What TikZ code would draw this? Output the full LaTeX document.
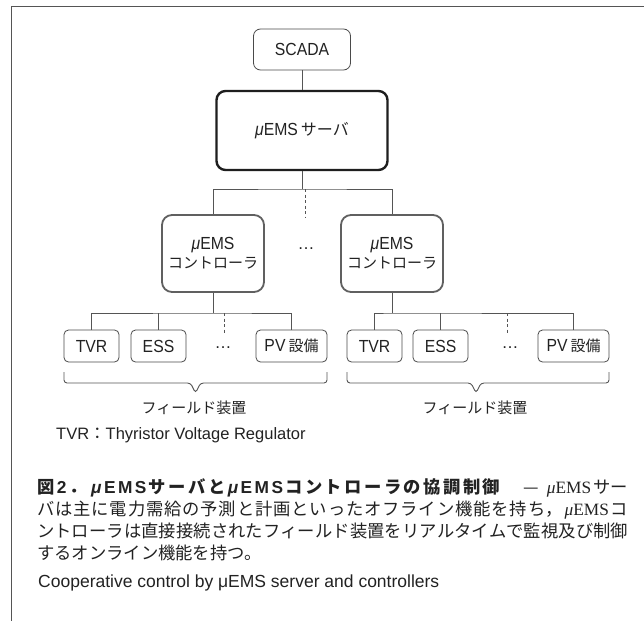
\documentclass[tikz,border=0pt]{standalone}
\usepackage{fontspec}
\setmainfont{Liberation Sans}
\newfontfamily\jp{Noto Sans CJK JP}
\newfontfamily\lnarrow{Liberation Sans}[FakeStretch=0.9]
\newfontfamily\lserif{Liberation Serif}
\definecolor{lc}{HTML}{555555}
\definecolor{bc}{HTML}{4A4A4A}
\definecolor{cc}{HTML}{606060}
\definecolor{sc}{HTML}{1E1E1E}
\definecolor{tc}{HTML}{222222}
\newcommand\emsN{{\lnarrow\itshape μ\upshape EMS}}
\newcommand\emsR{{\lserif\itshape μ\upshape EMS}}
\newcommand\bj[1]{{\jp\bfseries #1}\hfil}
\newcommand\bl[1]{{\bfseries #1}\hfil}
\newcommand\emsBs{{\bfseries\itshape μ}\hfil\bl{E}\bl{M}\bl{S}}
\newcommand\capline[1]{\parbox[b]{591pt}{\XeTeXlinebreaklocale "ja"\XeTeXlinebreakskip=0pt plus 20pt minus 0.4pt\tolerance=10000\parfillskip=0pt #1}}
\begin{document}
\begin{tikzpicture}[x=1pt,y=-1pt,
  frameline/.style={draw=lc, line width=1pt},
  conn/.style={draw=lc, line width=0.9pt},
  dashline/.style={draw=lc, line width=0.9pt, dash pattern=on 3pt off 2.5pt},
  thinbox/.style={draw=bc, line width=0.8pt, rounded corners=7pt, inner sep=0pt, text=tc,
    font=\lnarrow\fontsize{17.5}{20}\selectfont},
  srvbox/.style={draw=sc, line width=2.4pt, rounded corners=9pt, inner sep=0pt, text=tc,
    minimum width=171pt, minimum height=79pt, font=\fontsize{17.5}{20}\selectfont},
  ctrlbox/.style={draw=cc, line width=1.8pt, rounded corners=10pt, inner sep=0pt, text=tc,
    minimum width=102pt, minimum height=77pt, align=center, font=\fontsize{17.5}{19}\selectfont},
  devbox/.style={thinbox, rounded corners=4.5pt, minimum width=55pt, minimum height=32pt},
  pvbox/.style={devbox, minimum width=71pt},
  brace/.style={draw=lc, line width=0.9pt, rounded corners=3pt},
  lbl/.style={inner sep=0pt, text=tc},
  dots/.style={inner sep=0pt, text=tc, font=\fontsize{17}{20}\selectfont},
  jpfont/.style={font=\jp\fontsize{15}{18}\selectfont}
]
\useasboundingbox (0,0) rectangle (644,621);
\fill[white] (0,0) rectangle (644,621);
% frame
\coordinate (fa) at (644,6);
\coordinate (fb) at (11.5,6);
\coordinate (fc) at (11.5,621);
\draw[frameline] (fa) -- (fb) -- (fc);

% top
\node[thinbox, minimum width=97pt, minimum height=41pt] (scada) at (302,49.5) {SCADA};
\node[srvbox] (srv) at (302,130.5) {\emsN\hspace{3pt}{\jp\fontsize{16}{18}\selectfont サーバ}};
\draw[conn] (scada) -- (srv);

% controllers
\node[ctrlbox] (c1) at (213,253.5) {\emsN\\{\jp\fontsize{15}{18}\selectfont コントローラ}};
\node[ctrlbox] (c2) at (392,253.5) {\emsN\\{\jp\fontsize{15}{18}\selectfont コントローラ}};
\node[dots] (cdots) at (306,249) {…};
\coordinate (bus) at (302,189);
\draw[conn] (srv) -- (bus);
\draw[conn] (c1.north) |- (bus) -| (c2.north);
\coordinate (dtop) at (305,189);
\coordinate (dbot) at (305,217);
\draw[dashline] (dtop) -- (dbot);

% left devices
\node[devbox] (t1) at (91.5,346) {TVR};
\node[devbox] (e1) at (158.5,346) {ESS};
\node[dots] (ld) at (223,348) {…};
\node[pvbox] (p1) at (291.5,346) {PV\hspace{3pt}{\jp\fontsize{15}{18}\selectfont 設備}};
\coordinate (lb) at (213,313);
\draw[conn] (c1) -- (lb);
\draw[conn] (t1.north) |- (lb) -| (p1.north);
\draw[conn] (e1.north) -- (e1.north |- lb);
\coordinate (lda) at (224,313);
\coordinate (ldb) at (224,333);
\draw[dashline] (lda) -- (ldb);

% right devices
\node[devbox] (t2) at (374.5,346) {TVR};
\node[devbox] (e2) at (440.5,346) {\raisebox{-2pt}{ESS}};
\node[dots] (rd) at (510,348) {…};
\node[pvbox] (p2) at (573.5,346) {PV\hspace{3pt}{\jp\fontsize{15}{18}\selectfont 設備}};
\coordinate (rb) at (392,313);
\draw[conn] (c2) -- (rb);
\draw[conn] (t2.north) |- (rb) -| (p2.north);
\draw[conn] (e2.north) -- (e2.north |- rb);
\coordinate (rda) at (507,313);
\coordinate (rdb) at (507,333);
\draw[dashline] (rda) -- (rdb);

% braces
\draw[brace] (64,372) -- (64,383) -- (190.5,383) -- (195.5,393) -- (200.5,383) -- (327,383) -- (327,372);
\draw[brace] (347,372) -- (347,383) -- (471,383) -- (476,393) -- (481,383) -- (609,383) -- (609,372);
\node[lbl, jpfont] (fl1) at (194,408) {フィールド装置};
\node[lbl, jpfont] (fl2) at (475,408) {フィールド装置};

% legend
\node[lbl, anchor=base west, font=\fontsize{16.5}{20}\selectfont] (leg) at (56,439) {TVR{\jp ：}Thyristor Voltage Regulator};

% caption
\node[lbl, anchor=base west, font=\fontsize{17.3}{22}\selectfont] (cap1) at (37,493) {\makebox[463pt][s]{\bj{図}\bl{2}\bj{．}\hfil\emsBs\bj{サ}\bj{ー}\bj{バ}\bj{と}\emsBs\bj{コ}\bj{ン}\bj{ト}\bj{ロ}\bj{ー}\bj{ラ}\bj{の}\bj{協}\bj{調}\bj{制}{\jp\bfseries 御}}};
\node[lbl, anchor=base east, font=\fontsize{17.3}{22}\selectfont] (cap1b) at (628,493) {{\jp —}\hspace{8pt}\emsR\hspace{2pt}{\jp サー}};
\node[lbl, anchor=base west] (cap2) at (37,515) {\fontsize{17.3}{22}\selectfont\capline{{\jp バは主に電力需給の予測と計画といったオフライン機能を持ち，}\hspace{2pt}\emsR\hspace{2pt}{\jp コ}}};
\node[lbl, anchor=base west] (cap3) at (37,537) {\fontsize{17.3}{22}\selectfont\capline{{\jp ントローラは直接接続されたフィールド装置をリアルタイムで監視及び制御}}};
\node[lbl, anchor=base west] (cap4) at (37,559) {\fontsize{17.3}{22}\selectfont{\jp するオンライン機能を持つ。}};
\node[lbl, anchor=base west, font=\fontsize{17.5}{20}\selectfont] (eng) at (38,587) {Cooperative control by μEMS server and controllers};
\end{tikzpicture}
\end{document}
